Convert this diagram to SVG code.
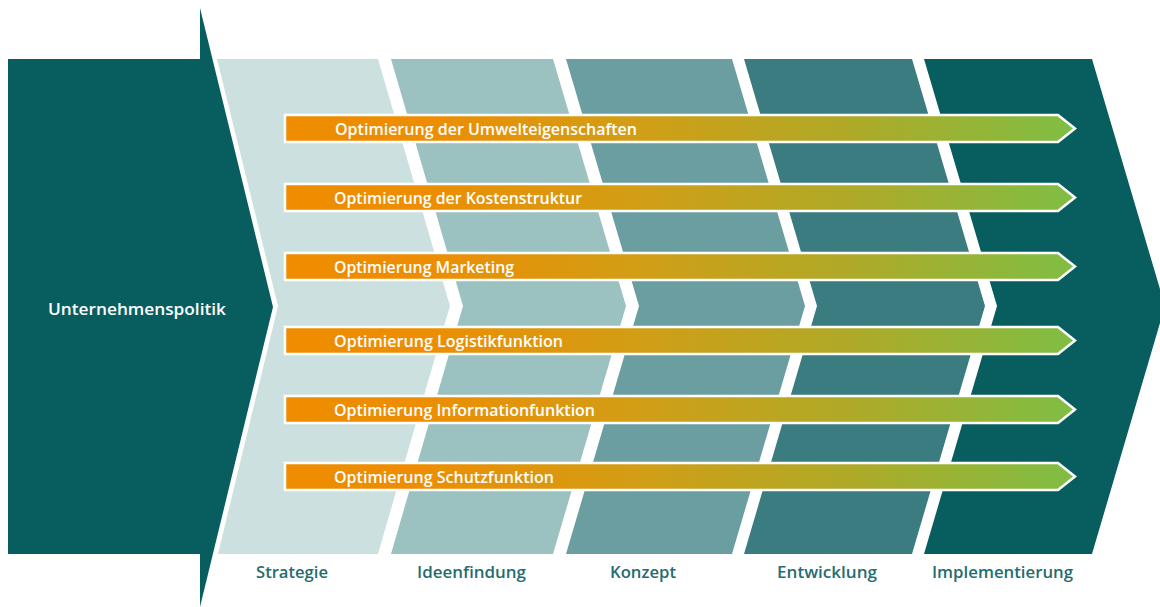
<svg xmlns="http://www.w3.org/2000/svg" width="1160" height="607" viewBox="0 0 1160 607">
<defs>
<linearGradient id="g" gradientUnits="userSpaceOnUse" x1="285" y1="0" x2="1076" y2="0">
<stop offset="0" stop-color="#ef8c00"/>
<stop offset="0.17" stop-color="#ee8d01"/>
<stop offset="0.45" stop-color="#d19e16"/>
<stop offset="0.72" stop-color="#aeaa28"/>
<stop offset="1" stop-color="#7fbe44"/>
</linearGradient>
<style>
.bar{fill:url(#g);stroke:#fff;stroke-width:2.5;stroke-linejoin:miter}
.bt{font-family:"Open Sans","Lato","Liberation Sans",sans-serif;font-weight:600;font-size:16px;fill:#fff}
.lb{font-family:"Open Sans","Lato","Liberation Sans",sans-serif;font-weight:600;font-size:16.5px;fill:#236d6e}
</style>
</defs>
<rect width="1160" height="607" fill="#fff"/>
<g id="bands">
<polygon id="strategie" points="217,59 378,59 450,306 378,554 218,554 278,306" fill="#cde0e0"/>
<polygon id="ideenfindung" points="391,59 553,59 626,306 553,554 391,554 463,306" fill="#9cc1c1"/>
<polygon id="konzept" points="566,59 732,59 805,306 732,554 566,554 639,306" fill="#6a9ea0"/>
<polygon id="entwicklung" points="744,59 912,59 985,306 912,554 744,554 817,306" fill="#3a7c7f"/>
<polygon id="implementierung" points="924,59 1092,59 1165,306 1092,554 924,554 997,306" fill="#085e5f"/>
</g>
<g id="unternehmenspolitik">
<polygon points="8,59 200,59 200,8 273,307 200,607 200,554 8,554" fill="#085e5f"/>
<text class="bt" x="48" y="315" textLength="178" lengthAdjust="spacingAndGlyphs" font-size="16.5">Unternehmenspolitik</text>
</g>
<g id="connectors">
<g id="bar1"><polygon class="bar" points="285,115 1058,115 1075,128.5 1058,142 285,142"/>
<text class="bt" x="335" y="134.5" textLength="302" lengthAdjust="spacingAndGlyphs">Optimierung der Umwelteigenschaften</text></g>
<g id="bar2"><polygon class="bar" points="285,184 1058,184 1075,197.5 1058,211 285,211"/>
<text class="bt" x="334" y="203.5" textLength="248" lengthAdjust="spacingAndGlyphs">Optimierung der Kostenstruktur</text></g>
<g id="bar3"><polygon class="bar" points="285,253 1058,253 1075,266.5 1058,280 285,280"/>
<text class="bt" x="334" y="272.5" textLength="180" lengthAdjust="spacingAndGlyphs">Optimierung Marketing</text></g>
<g id="bar4"><polygon class="bar" points="285,327 1058,327 1075,340.5 1058,354 285,354"/>
<text class="bt" x="334" y="346.5" textLength="229" lengthAdjust="spacingAndGlyphs">Optimierung Logistikfunktion</text></g>
<g id="bar5"><polygon class="bar" points="285,396 1058,396 1075,409.5 1058,423 285,423"/>
<text class="bt" x="334" y="415.5" textLength="261" lengthAdjust="spacingAndGlyphs">Optimierung Informationfunktion</text></g>
<g id="bar6"><polygon class="bar" points="285,463 1058,463 1075,476.5 1058,490 285,490"/>
<text class="bt" x="334" y="482.5" textLength="220" lengthAdjust="spacingAndGlyphs">Optimierung Schutzfunktion</text></g>
</g>
<g id="labels">
<text class="lb" x="256" y="578" textLength="72" lengthAdjust="spacingAndGlyphs">Strategie</text>
<text class="lb" x="417" y="578" textLength="109" lengthAdjust="spacingAndGlyphs">Ideenfindung</text>
<text class="lb" x="610" y="578" textLength="66" lengthAdjust="spacingAndGlyphs">Konzept</text>
<text class="lb" x="777" y="578" textLength="100" lengthAdjust="spacingAndGlyphs">Entwicklung</text>
<text class="lb" x="932" y="578" textLength="141" lengthAdjust="spacingAndGlyphs">Implementierung</text>
</g>
</svg>
